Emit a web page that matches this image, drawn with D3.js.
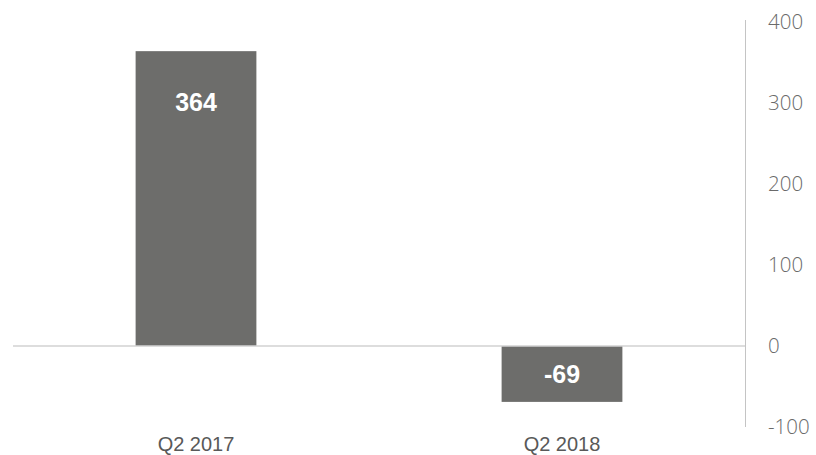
<!DOCTYPE html>
<html>
<head>
<meta charset="utf-8">
<script src="https://cdn.jsdelivr.net/npm/d3@7"></script>
<style>
  html, body { margin: 0; padding: 0; background: #fff; }
  svg { display: block; }
</style>
</head>
<body>
<div id="chart"></div>
<script>
const categories = ['Q2 2017', 'Q2 2018'];
const values = [364, -69];
const tickValues = [400, 300, 200, 100, 0, -100];

const width = 816;
const height = 455;

const svg = d3.select('#chart')
    .append('svg')
    .attr('width', width)
    .attr('height', height);

const x = d3.scaleBand()
    .domain(categories)
    .range([13, 745])
    .paddingInner(0.67)
    .paddingOuter(0.335);

// 0 sits at 346, 100 units per 81px
const y = d3.scaleLinear()
    .domain([-100, 400])
    .range([427, 22]);

// right axis line
svg.append('line')
    .attr('x1', 745.5).attr('x2', 745.5)
    .attr('y1', 20).attr('y2', y(-100))
    .attr('stroke', '#c4c4c4')
    .attr('stroke-width', 1);

// tick labels
svg.append('g')
    .selectAll('text')
    .data(tickValues)
    .join('text')
    .attr('x', 768)
    .attr('y', d => y(d))
    .attr('dy', '0.36em')
    .attr('font-family', '"Open Sans", sans-serif')
    .attr('font-weight', 300)
    .attr('font-size', 20.5)
    .attr('fill', '#6a6a6a')
    .text(d => d);

// bars
svg.append('g')
    .selectAll('rect')
    .data(values)
    .join('rect')
    .attr('x', (d, i) => x(categories[i]))
    .attr('width', x.bandwidth())
    .attr('y', d => y(Math.max(0, d)))
    .attr('height', d => Math.abs(y(d) - y(0)))
    .attr('fill', '#6d6d6b');

// zero line
svg.append('line')
    .attr('x1', 13).attr('x2', 745)
    .attr('y1', y(0)).attr('y2', y(0))
    .attr('stroke', '#d2d2d2')
    .attr('stroke-width', 1.5);

// bar value labels
svg.append('g')
    .selectAll('text')
    .data(values)
    .join('text')
    .attr('x', (d, i) => x(categories[i]) + x.bandwidth() / 2)
    .attr('y', d => d > 0 ? y(d) + 51 : y(0) + 28)
    .attr('dy', '0.35em')
    .attr('text-anchor', 'middle')
    .attr('font-family', 'Arial, "Liberation Sans", sans-serif')
    .attr('font-weight', 'bold')
    .attr('font-size', 25)
    .attr('fill', '#ffffff')
    .text(d => d);

// category labels
svg.append('g')
    .selectAll('text')
    .data(categories)
    .join('text')
    .attr('x', d => x(d) + x.bandwidth() / 2)
    .attr('y', 451)
    .attr('text-anchor', 'middle')
    .attr('font-family', 'Arial, "Liberation Sans", sans-serif')
    .attr('font-size', 20)
    .attr('fill', '#595959')
    .text(d => d);
</script>
</body>
</html>
